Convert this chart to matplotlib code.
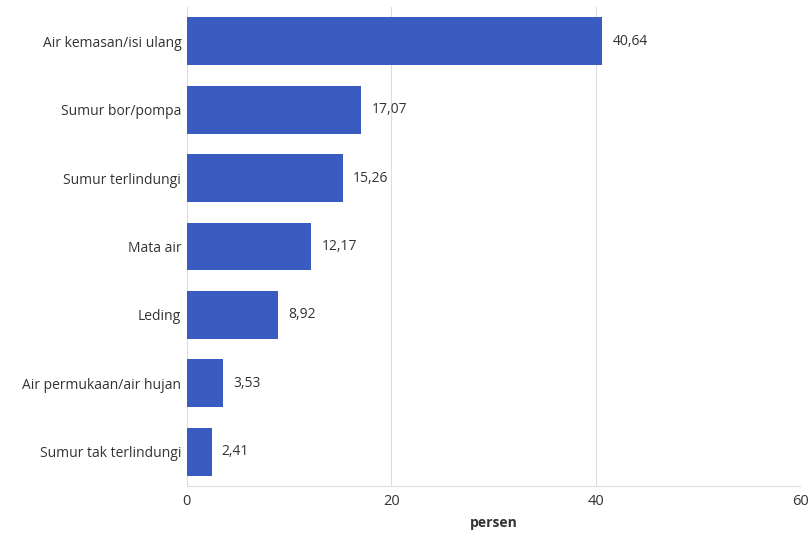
import matplotlib
matplotlib.use('Agg')
import matplotlib.pyplot as plt

plt.rcParams['font.family'] = ['Open Sans', 'DejaVu Sans']

kategori = ['Air kemasan/isi ulang', 'Sumur bor/pompa', 'Sumur terlindungi',
            'Mata air', 'Leding', 'Air permukaan/air hujan', 'Sumur tak terlindungi']
nilai = [40.64, 17.07, 15.26, 12.17, 8.92, 3.53, 2.41]
label_nilai = ['40,64', '17,07', '15,26', '12,17', '8,92', '3,53', '2,41']

fig = plt.figure(figsize=(8.09, 5.4), dpi=100)
ax = fig.add_axes([0.231, 0.1, 0.758, 0.887])

pos = range(len(kategori))
ax.barh(pos, nilai, height=0.7, color='#3a5bbf', zorder=3)
for i, (v, t) in enumerate(zip(nilai, label_nilai)):
    ax.text(v + 1.0, i, t, va='center', ha='left', fontsize=10, color='#333333')

ax.set_yticks(list(pos))
ax.set_yticklabels(kategori, fontsize=10, color='#333333')
ax.set_ylim(6.5, -0.5)
ax.set_xlim(0, 60)
ax.set_xticks([0, 20, 40, 60])
ax.tick_params(axis='both', length=0, colors='#333333')
ax.tick_params(axis='y', pad=4, labelsize=10)
ax.tick_params(axis='x', pad=6, labelsize=10.5)
ax.grid(axis='x', color='#dddddd', linewidth=0.8, zorder=0)
for s in ['top', 'right']:
    ax.spines[s].set_visible(False)
ax.spines['left'].set_color('#dddddd')
ax.spines['bottom'].set_color('#dddddd')
ax.set_xlabel('persen', fontsize=10, fontweight='bold', color='#333333', labelpad=5)

fig.savefig('out.png', dpi=100)
